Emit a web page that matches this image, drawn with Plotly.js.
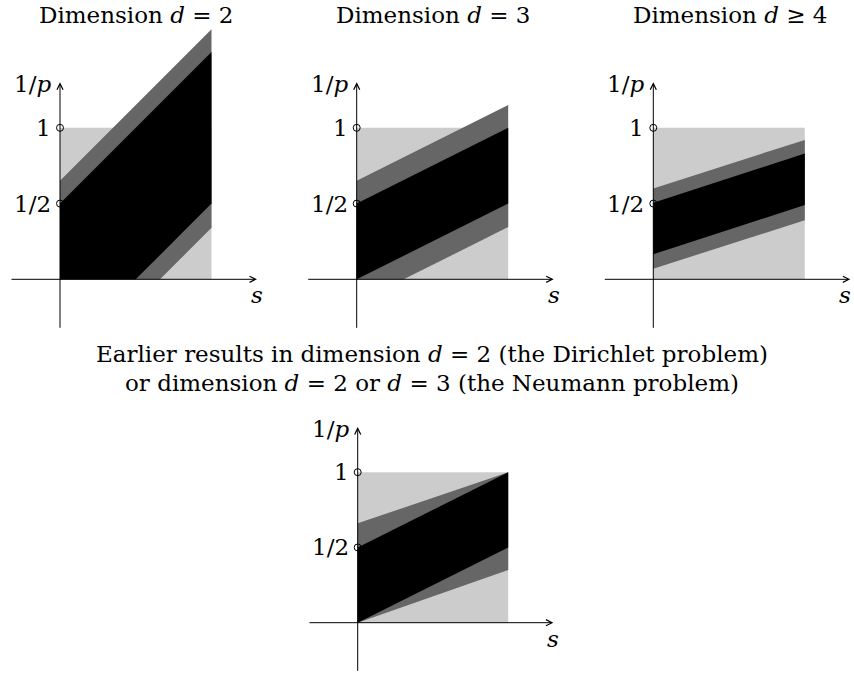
<!DOCTYPE html>
<html><head><meta charset="utf-8">
<script src="https://cdn.plot.ly/plotly-3.0.1.min.js"></script>
<style>html,body{margin:0;padding:0;background:#fff}</style>
</head><body><div id="chart" style="width:854px;height:677px"></div>
<script>
// ---- data (s on horizontal axis, 1/p on vertical axis) ----
const squareS = [0, 1, 1, 0];
const squareP = [0, 0, 1, 1];
const d2GrayS  = [0, 0, 1, 1, 0.66];
const d2GrayP  = [0, 0.65, 1.65, 0.34, 0];
const d2BlackS = [0, 0, 1, 1, 0.5];
const d2BlackP = [0, 0.5, 1.5, 0.5, 0];
const d3GrayS  = [0, 0, 1, 1, 0.31];
const d3GrayP  = [0, 0.65, 1.15, 0.345, 0];
const d3BlackS = [0, 0, 1, 1];
const d3BlackP = [0, 0.5, 1.0, 0.5];
const d4GrayS  = [0, 0, 1, 1];
const d4GrayP  = [0.07, 0.6, 0.92, 0.39];
const d4BlackS = [0, 0, 1, 1];
const d4BlackP = [0.165, 0.505, 0.83, 0.49];
const oldGrayS  = [0, 0, 1, 1];
const oldGrayP  = [0, 0.66, 1, 0.35];
const oldBlackS = [0, 0, 1, 1];
const oldBlackP = [0, 0.5, 1, 0.5];
const markS = [0, 0];
const markP = [1, 0.5];
const tickLabels = ['1', '1/2'];
const yAxisLabel = '1/<i>p</i>';
const xAxisLabel = '<i>s</i>';
const panelTitles = ['Dimension <i>d</i> = 2', 'Dimension <i>d</i> = 3', 'Dimension <i>d</i> ≥ 4'];
const captionLines = ['Earlier results in dimension <i>d</i> = 2 (the Dirichlet problem)',
                      'or dimension <i>d</i> = 2 or <i>d</i> = 3 (the Neumann problem)'];
const axisMin = -0.33, axisMax = 1.3;

// ---- layout geometry ----
const W = 854, H = 677;
const FONT = 'DejaVu Serif';
const FS = 23;
const LIGHT = '#cccccc', DARK = '#666666', BLACK = '#000000';

const panels = [
  {ox: 60,    oy: 279.3, u: 151.5, box: [0, 25, 284, 345],   gs: d2GrayS, gp: d2GrayP, bs: d2BlackS, bp: d2BlackP, title: panelTitles[0], tx: 135.5, ty: 15, sx: 0},
  {ox: 356.7, oy: 279.3, u: 151.5, box: [285, 25, 570, 345], gs: d3GrayS, gp: d3GrayP, bs: d3BlackS, bp: d3BlackP, title: panelTitles[1], tx: 433, ty: 15, sx: 0},
  {ox: 653.3, oy: 279.3, u: 151.5, box: [575, 25, 854, 345], gs: d4GrayS, gp: d4GrayP, bs: d4BlackS, bp: d4BlackP, title: panelTitles[2], tx: 730, ty: 15, sx: -5},
  {ox: 357.7, oy: 622.7, u: 150.5, box: [290, 400, 570, 677], gs: oldGrayS, gp: oldGrayP, bs: oldBlackS, bp: oldBlackP, title: null, sx: 0}
];

const traces = [];
const layout = {
  width: W, height: H,
  margin: {l: 0, r: 0, t: 0, b: 0},
  paper_bgcolor: '#fff', plot_bgcolor: 'rgba(0,0,0,0)',
  showlegend: false,
  font: {family: FONT, size: FS, color: '#000'},
  annotations: []
};

panels.forEach((p, i) => {
  const n = i === 0 ? '' : String(i + 1);
  const xa = 'x' + n, ya = 'y' + n;
  layout['xaxis' + n] = {
    domain: [p.box[0] / W, p.box[2] / W],
    range: [(p.box[0] - p.ox) / p.u, (p.box[2] - p.ox) / p.u],
    anchor: ya, visible: false, fixedrange: true
  };
  layout['yaxis' + n] = {
    domain: [1 - p.box[3] / H, 1 - p.box[1] / H],
    range: [(p.oy - p.box[3]) / p.u, (p.oy - p.box[1]) / p.u],
    anchor: xa, visible: false, fixedrange: true
  };
  const poly = (xs, ys, col) => ({
    type: 'scatter', mode: 'lines', x: xs, y: ys, xaxis: xa, yaxis: ya,
    fill: 'toself', fillcolor: col, line: {width: 0, color: col}, hoverinfo: 'skip'
  });
  traces.push(poly(squareS, squareP, LIGHT));
  traces.push(poly(p.gs, p.gp, DARK));
  traces.push(poly(p.bs, p.bp, BLACK));
  traces.push({
    type: 'scatter', mode: 'markers', x: markS, y: markP, xaxis: xa, yaxis: ya,
    marker: {symbol: 'circle-open', size: 7, color: '#000', line: {width: 1, color: '#000'}},
    hoverinfo: 'skip', cliponaxis: false
  });
  const arrow = (x, y, ax, ay) => ({
    xref: xa, yref: ya, axref: xa, ayref: ya, x: x, y: y, ax: ax, ay: ay,
    text: '', showarrow: true, arrowhead: 5, arrowsize: 1.2, arrowwidth: 1,
    arrowcolor: '#000', standoff: 0, startstandoff: 0
  });
  layout.annotations.push(arrow(axisMax, 0, axisMin, 0));
  layout.annotations.push(arrow(0, axisMax, 0, axisMin));
  const lab = (x, y, text, extra) => Object.assign({
    xref: xa, yref: ya, x: x, y: y, text: text, showarrow: false,
    font: {family: FONT, size: FS, color: '#000'}
  }, extra);
  layout.annotations.push(lab(0, markP[0], tickLabels[0], {xanchor: 'right', xshift: -7}));
  layout.annotations.push(lab(0, markP[1], tickLabels[1], {xanchor: 'right', xshift: -7}));
  layout.annotations.push(lab(0, axisMax, yAxisLabel, {xanchor: 'right', xshift: -7, yshift: -2}));
  layout.annotations.push(lab(axisMax, 0, xAxisLabel, {xanchor: 'center', yshift: -16, xshift: p.sx}));
  if (p.title) {
    layout.annotations.push({
      xref: 'paper', yref: 'paper', x: p.tx / W, y: 1 - p.ty / H, text: p.title,
      showarrow: false, xanchor: 'center', yanchor: 'middle',
      font: {family: FONT, size: FS, color: '#000'}
    });
  }
});

[354, 383].forEach((py, k) => {
  layout.annotations.push({
    xref: 'paper', yref: 'paper', x: 432 / W, y: 1 - py / H, text: captionLines[k],
    showarrow: false, xanchor: 'center', yanchor: 'middle',
    font: {family: FONT, size: FS, color: '#000'}
  });
});

Plotly.newPlot('chart', traces, layout, {staticPlot: true, displayModeBar: false});
</script>
</body></html>
